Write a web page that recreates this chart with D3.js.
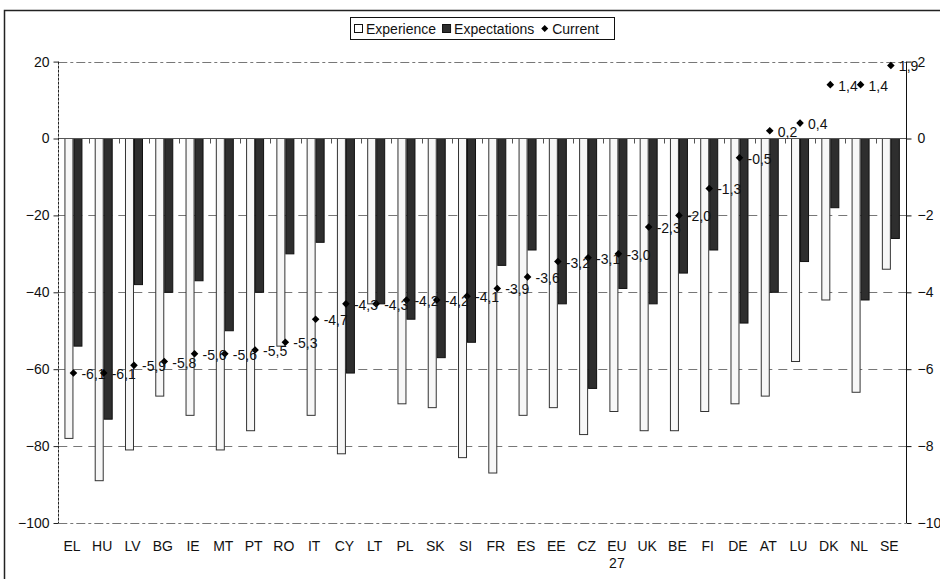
<!DOCTYPE html>
<html>
<head>
<meta charset="utf-8">
<script src="https://cdn.jsdelivr.net/npm/d3@7/dist/d3.min.js"></script>
<style>
  html, body { margin: 0; padding: 0; background: #fff; }
  svg { display: block; font-family: "Liberation Sans", Arial, sans-serif; }
</style>
</head>
<body>
<svg id="chart" width="940" height="579"></svg>
<script>
const categories = ["EL","HU","LV","BG","IE","MT","PT","RO","IT","CY","LT","PL","SK","SI","FR","ES","EE","CZ","EU 27","UK","BE","FI","DE","AT","LU","DK","NL","SE"];
const experience = [-78,-89,-81,-67,-72,-81,-76,-54,-72,-82,-43,-69,-70,-83,-87,-72,-70,-77,-71,-76,-76,-71,-69,-67,-58,-42,-66,-34];
const expectations = [-54,-73,-38,-40,-37,-50,-40,-30,-27,-61,-43,-47,-57,-53,-33,-29,-43,-65,-39,-43,-35,-29,-48,-40,-32,-18,-42,-26];
const current = [-6.1,-6.1,-5.9,-5.8,-5.6,-5.6,-5.5,-5.3,-4.7,-4.3,-4.3,-4.2,-4.2,-4.1,-3.9,-3.6,-3.2,-3.1,-3.0,-2.3,-2.0,-1.3,-0.5,0.2,0.4,1.4,1.4,1.9];
const leftTicks = [20,0,-20,-40,-60,-80,-100];
const rightTicks = [2,0,-2,-4,-6,-8,-10];
const seriesNames = ["Experience","Expectations","Current"];

const svg = d3.select("#chart");
const L = 58.3, R = 906, T = 61.6, B = 523;

const x = d3.scaleBand().domain(categories).range([L, R]).padding(0);
const bw = x.bandwidth();
const xSub = d3.scaleBand().domain(["Experience","Expectations"]).range([bw/2 - 9, bw/2 + 9]);
const yL = d3.scaleLinear().domain([-100, 20]).range([B, T]);
const yR = d3.scaleLinear().domain([-10, 2]).range([B, T]);

// outer frame (only left and top visible)
svg.append("path").attr("d", "M4.5,579 L4.5,10.5 L940,10.5")
  .attr("fill", "none").attr("stroke", "#222").attr("stroke-width", 1.5);

// gridlines
const g = svg.append("g");
g.selectAll("line.grid").data([-20,-40,-60,-80]).enter().append("line")
  .attr("x1", L).attr("x2", R).attr("y1", d => Math.round(yL(d)) + 0.5).attr("y2", d => Math.round(yL(d)) + 0.5)
  .attr("stroke", "#777").attr("stroke-dasharray", "9,6");
g.selectAll("line.border").data([20,-100]).enter().append("line")
  .attr("x1", L).attr("x2", R).attr("y1", d => Math.round(yL(d)) + 0.5).attr("y2", d => Math.round(yL(d)) + 0.5)
  .attr("stroke", "#777").attr("stroke-dasharray", "9,3,3,3");

// bars
const barData = categories.map((c, i) => ({c, i}));
svg.append("g").selectAll("rect.exp").data(barData).enter().append("rect")
  .attr("x", d => x(d.c) + xSub("Experience") + 0.5)
  .attr("y", yL(0))
  .attr("width", xSub.bandwidth() - 1)
  .attr("height", d => yL(experience[d.i]) - yL(0))
  .attr("fill", "#f7f7f7").attr("stroke", "#333").attr("stroke-width", 1);
svg.append("g").selectAll("rect.expct").data(barData).enter().append("rect")
  .attr("x", d => x(d.c) + xSub("Expectations") + 0.5)
  .attr("y", yL(0))
  .attr("width", xSub.bandwidth() - 1)
  .attr("height", d => yL(expectations[d.i]) - yL(0))
  .attr("fill", "#2e2e2e").attr("stroke", "#111").attr("stroke-width", 1);

// zero line with category ticks
const y0 = Math.round(yL(0)) + 0.5;
svg.append("line").attr("x1", L).attr("x2", R).attr("y1", y0).attr("y2", y0)
  .attr("stroke", "#555").attr("stroke-width", 1);
svg.append("g").selectAll("line").data(categories.slice(1)).enter().append("line")
  .attr("x1", d => Math.round(x(d)) + 0.5).attr("x2", d => Math.round(x(d)) + 0.5)
  .attr("y1", y0).attr("y2", y0 + 5).attr("stroke", "#555");

// left axis
svg.append("line").attr("x1", Math.round(L) + 0.5).attr("x2", Math.round(L) + 0.5)
  .attr("y1", yL(20)).attr("y2", yL(-100)).attr("stroke", "#222").attr("stroke-dasharray", "3,1");
const la = svg.append("g").attr("transform", `translate(${Math.round(L) + 0.5},0)`)
  .call(d3.axisLeft(yL).tickValues(leftTicks).tickSize(5).tickPadding(4).tickFormat(d3.format("d")));
la.select(".domain").remove();
la.selectAll(".tick line").attr("stroke", "#222");
la.selectAll("text").attr("font-size", 14).attr("fill", "#111").attr("font-family", "Liberation Sans, Arial, sans-serif");

// right axis
const ra = svg.append("g").attr("transform", `translate(${Math.round(R) + 0.5},0)`)
  .call(d3.axisRight(yR).tickValues(rightTicks).tickSize(5).tickPadding(6).tickFormat(d3.format("d")));
ra.select(".domain").attr("stroke", "#111").attr("d", `M0,${yR(2)}V${yR(-10)}`);
ra.selectAll(".tick line").attr("stroke", "#111");
ra.selectAll("text").attr("font-size", 14).attr("fill", "#111").attr("font-family", "Liberation Sans, Arial, sans-serif");

// x labels
const xl = svg.append("g");
categories.forEach(c => {
  const parts = c.split(" ");
  const t = xl.append("text").attr("x", x(c) + bw/2 - 1.5).attr("y", 551)
    .attr("text-anchor", "middle").attr("font-size", 14).attr("fill", "#111");
  parts.forEach((p, k) => t.append("tspan").attr("x", x(c) + bw/2 - 1.5).attr("dy", k === 0 ? 0 : 17).text(p));
});

// current diamonds and labels
const fmt = v => d3.format(".1f")(v).replace(".", ",").replace("−", "-");
const cg = svg.append("g");
cg.selectAll("path").data(barData).enter().append("path")
  .attr("transform", d => `translate(${x(d.c) + bw/2},${yR(current[d.i])})`)
  .attr("d", "M0,-3.8L3.8,0L0,3.8L-3.8,0Z").attr("fill", "#000");
cg.selectAll("text").data(barData).enter().append("text")
  .attr("x", d => x(d.c) + bw/2 + 8)
  .attr("y", d => yR(current[d.i]) + 6)
  .attr("font-size", 14).attr("fill", "#111")
  .text(d => fmt(current[d.i]));

// legend
const lg = svg.append("g");
const lx = 350, ly = 17, lh = 22;
lg.append("rect").attr("x", lx + 0.5).attr("y", ly + 0.5).attr("width", 264).attr("height", lh)
  .attr("fill", "#fff").attr("stroke", "#111");
let cx = lx + 4;
const cy = ly + lh/2 + 0.5;
seriesNames.forEach((name, k) => {
  if (k === 0) {
    lg.append("rect").attr("x", cx + 0.5).attr("y", cy - 4).attr("width", 8).attr("height", 8)
      .attr("fill", "#fff").attr("stroke", "#111");
  } else if (k === 1) {
    lg.append("rect").attr("x", cx + 0.5).attr("y", cy - 4).attr("width", 8).attr("height", 8)
      .attr("fill", "#2e2e2e").attr("stroke", "#111");
  } else {
    lg.append("path").attr("transform", `translate(${cx + 4.5},${cy})`)
      .attr("d", "M0,-3.5L3.5,0L0,3.5L-3.5,0Z").attr("fill", "#000");
  }
  const t = lg.append("text").attr("x", cx + 12).attr("y", cy + 5).attr("font-size", 14).attr("fill", "#111").text(name);
  cx += 12 + t.node().getComputedTextLength() + 6;
});
</script>
</body>
</html>
